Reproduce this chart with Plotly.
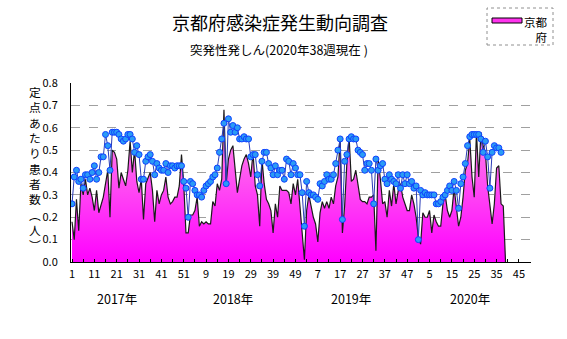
import plotly.graph_objects as go

# ---- data (weekly, 2017 week 1 .. 2020 week 39) ----
kyoto = [0.18,0.10,0.28,0.14,0.35,0.30,0.37,0.30,0.33,0.29,0.23,0.32,0.22,0.26,0.29,0.35,0.41,0.20,0.50,0.49,
         0.46,0.33,0.40,0.37,0.34,0.41,0.54,0.40,0.50,0.36,0.31,0.37,0.19,0.35,0.38,0.40,0.32,0.18,0.32,0.26,
         0.30,0.32,0.38,0.29,0.26,0.27,0.29,0.29,0.34,0.48,0.35,0.13,0.13,0.21,0.21,0.23,0.29,0.16,0.18,0.17,
         0.18,0.17,0.17,0.27,0.25,0.35,0.32,0.37,0.68,0.35,0.46,0.50,0.52,0.41,0.31,0.37,0.43,0.46,0.48,0.44,
         0.38,0.49,0.34,0.30,0.16,0.46,0.35,0.28,0.26,0.23,0.13,0.26,0.20,0.34,0.32,0.32,0.32,0.31,0.26,0.35,
         0.30,0.37,0.25,0.16,0.01,0.23,0.30,0.25,0.20,0.17,0.09,0.22,0.27,0.24,0.27,0.24,0.29,0.26,0.34,0.38,
         0.55,0.13,0.25,0.44,0.56,0.36,0.37,0.41,0.34,0.28,0.27,0.27,0.26,0.29,0.29,0.30,0.05,0.46,0.37,0.26,
         0.27,0.20,0.32,0.25,0.35,0.26,0.32,0.35,0.29,0.26,0.23,0.23,0.30,0.26,0.20,0.11,0.08,0.22,0.20,0.20,
         0.23,0.13,0.21,0.18,0.16,0.16,0.26,0.30,0.23,0.20,0.23,0.33,0.23,0.16,0.20,0.29,0.41,0.44,0.55,0.38,
         0.29,0.58,0.38,0.58,0.52,0.49,0.34,0.26,0.17,0.26,0.42,0.43,0.26,0.25,0.0]

national = [0.26,0.38,0.41,0.36,0.37,0.33,0.39,0.39,0.37,0.40,0.43,0.37,0.40,0.47,0.47,0.57,0.52,0.41,0.58,0.58,
            0.58,0.57,0.55,0.54,0.55,0.57,0.57,0.55,0.49,0.52,0.48,0.37,0.37,0.45,0.47,0.48,0.45,0.39,0.44,0.42,
            0.41,0.41,0.44,0.40,0.43,0.43,0.42,0.43,0.43,0.43,0.36,0.33,0.20,0.36,0.35,0.32,0.30,0.30,0.29,0.32,
            0.34,0.35,0.36,0.38,0.39,0.42,0.49,0.55,0.62,0.35,0.64,0.58,0.61,0.58,0.60,0.55,0.55,0.56,0.55,0.55,
            0.47,0.48,0.48,0.39,0.34,0.45,0.49,0.49,0.44,0.42,0.39,0.43,0.39,0.41,0.41,0.37,0.46,0.45,0.39,0.44,
            0.42,0.39,0.39,0.31,0.16,0.36,0.31,0.30,0.30,0.29,0.28,0.35,0.34,0.36,0.39,0.37,0.37,0.39,0.44,0.50,
            0.55,0.19,0.45,0.48,0.55,0.56,0.55,0.55,0.50,0.49,0.48,0.41,0.44,0.44,0.41,0.26,0.46,0.41,0.43,0.44,
            0.37,0.35,0.39,0.37,0.36,0.35,0.39,0.33,0.39,0.35,0.39,0.35,0.36,0.33,0.34,0.10,0.32,0.30,0.31,0.30,
            0.30,0.30,0.30,0.26,0.26,0.27,0.29,0.30,0.32,0.34,0.32,0.36,0.32,0.24,0.35,0.38,0.44,0.52,0.56,0.57,
            0.57,0.57,0.57,0.55,0.49,0.54,0.47,0.33,0.49,0.52,0.51,0.51,0.49]

tick_weeks = list(range(1, 207, 5))
tick_labels_major = ["1","11","21","31","41","51","9","19","29","39","49","7","17","27","37","47",
                     "5","15","25","35","45"]
year_labels = ["2017年", "2018年", "2019年", "2020年"]
year_label_x = [21.0, 73.0, 126.0, 179.0]
y_ticks = [0.0, 0.1, 0.2, 0.3, 0.4, 0.5, 0.6, 0.7, 0.8]

title = "京都府感染症発生動向調査"
subtitle = "突発性発しん(2020年38週現在 )"
ytitle_chars = ["定", "点", "あ", "た", "り", "患", "者", "数", "︵", "人", "︶"]
legend_name = "京都府"

# ---- layout geometry ----
W, H = 567, 339
L, R, T, B = 71, 36, 83, 77
PW, PH = W - L - R, H - T - B


def fx(px):
    return (px - L) / PW


def fy(py):
    return (H - B - py) / PH


FONT = "Noto Sans CJK JP, Noto Sans, sans-serif"

fig = go.Figure()

weeks_k = list(range(1, len(kyoto) + 1))
weeks_n = list(range(1, len(national) + 1))

fig.add_trace(go.Scatter(
    x=weeks_k, y=kyoto, mode="lines", fill="tozeroy",
    line=dict(color="#1a1a1a", width=1.2),
    fillgradient=dict(type="vertical", start=0, stop=0.7,
                      colorscale=[[0, "#ff00ff"], [1, "#ff9be6"]]),
    showlegend=False, hoverinfo="skip"))

fig.add_trace(go.Scatter(
    x=weeks_n, y=national, mode="lines+markers",
    line=dict(color="#2a3cb8", width=1),
    marker=dict(size=6, color="#2a9bf5", line=dict(color="#1040ff", width=1)),
    showlegend=False, hoverinfo="skip"))

ticktext = []
for k, w in enumerate(tick_weeks):
    ticktext.append(tick_labels_major[k // 2] if k % 2 == 0 and k // 2 < len(tick_labels_major) else "")

fig.update_layout(
    width=W, height=H,
    margin=dict(l=L, r=R, t=T, b=B),
    paper_bgcolor="white", plot_bgcolor="white",
    font=dict(family=FONT, size=11, color="black"),
    xaxis=dict(range=[0.55, 206.4], tickmode="array", tickvals=tick_weeks, ticktext=ticktext,
               ticks="inside", ticklen=3, tickcolor="black", showgrid=False, zeroline=False,
               showline=True, linecolor="black", linewidth=1, tickfont=dict(size=11),
               ticklabelstandoff=2),
    yaxis=dict(range=[0, 0.8], tickmode="array", tickvals=y_ticks,
               ticktext=[f"{v:.1f}" for v in y_ticks], ticks="",
               showgrid=True, gridcolor="#a0a0a0", griddash="dash", gridwidth=1,
               zeroline=False, showline=True, linecolor="black", linewidth=1,
               tickfont=dict(size=11), ticklabelstandoff=10),
)

ann = []
ann.append(dict(text=title, x=fx(280), y=fy(22), xref="paper", yref="paper", showarrow=False,
                font=dict(size=18, family=FONT), xanchor="center", yanchor="middle"))
ann.append(dict(text=subtitle, x=fx(279), y=fy(50), xref="paper", yref="paper", showarrow=False,
                font=dict(size=12.5, family=FONT), xanchor="center", yanchor="middle"))
for lbl, xv in zip(year_labels, year_label_x):
    ann.append(dict(text=lbl, x=xv, y=fy(298), xref="x", yref="paper", showarrow=False,
                    font=dict(size=12.5, family=FONT), xanchor="center", yanchor="middle"))
ann.append(dict(text="<br>".join(ytitle_chars), x=fx(35), y=fy(168), xref="paper", yref="paper",
                showarrow=False, font=dict(size=11.8, family=FONT),
                xanchor="center", yanchor="middle", align="center"))
# legend text
ann.append(dict(text=legend_name[:2] + "<br>" + legend_name[2:], x=fx(536), y=fy(29),
                xref="paper", yref="paper", showarrow=False, font=dict(size=11.5, family=FONT),
                xanchor="center", yanchor="middle", align="right"))
fig.update_layout(annotations=ann)

shapes = [
    dict(type="rect", xref="paper", yref="paper", x0=fx(487), x1=fx(553), y0=fy(45), y1=fy(8),
         line=dict(color="#909090", width=1, dash="dot"), fillcolor="white", layer="below"),
    dict(type="rect", xref="paper", yref="paper", x0=fx(492), x1=fx(522), y0=fy(23), y1=fy(18),
         line=dict(color="black", width=1), fillcolor="#ff33ee", layer="above"),
]
fig.update_layout(shapes=shapes)

fig.write_html("out.html")
